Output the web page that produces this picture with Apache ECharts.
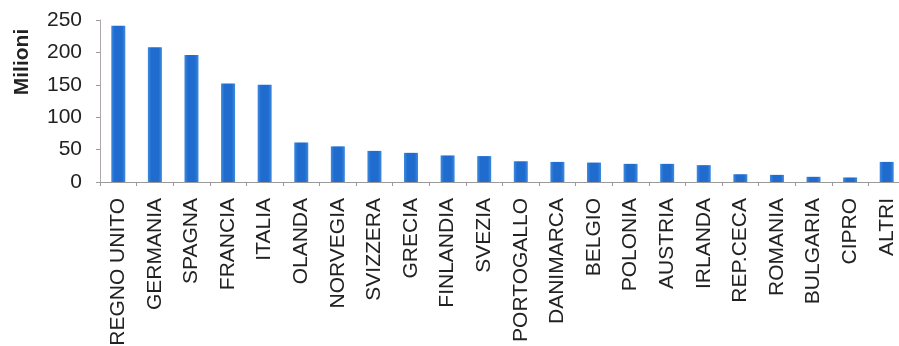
<!DOCTYPE html>
<html>
<head>
<meta charset="utf-8">
<script src="https://cdn.jsdelivr.net/npm/echarts@6/dist/echarts.min.js"></script>
<style>
  html, body { margin: 0; padding: 0; background: #fff; }
  #main { width: 899px; height: 346px; }
</style>
</head>
<body>
<div id="main"></div>
<script>
// paesi (categorie)
const paesi = ["REGNO UNITO", "GERMANIA", "SPAGNA", "FRANCIA", "ITALIA", "OLANDA", "NORVEGIA",
  "SVIZZERA", "GRECIA", "FINLANDIA", "SVEZIA", "PORTOGALLO", "DANIMARCA", "BELGIO", "POLONIA",
  "AUSTRIA", "IRLANDA", "REP.CECA", "ROMANIA", "BULGARIA", "CIPRO", "ALTRI"];
// valori in milioni
const valori = [241, 208, 196, 152, 150, 61, 55, 48, 45, 41, 40, 32, 31, 30, 28, 28, 26, 12, 11, 8, 7, 31];
const yTicks = [0, 50, 100, 150, 200, 250];

const chart = echarts.init(document.getElementById("main"));

const option = {
  animation: false,
  backgroundColor: "#fff",
  textStyle: { fontFamily: "Liberation Sans, Arial, sans-serif" },
  grid: {
    left: 100,
    top: 20,
    width: 805,
    height: 162,
    containLabel: false,
    outerBoundsMode: "none",
  },
  graphic: [
    {
      type: "text",
      x: 22,
      y: 62,
      rotation: Math.PI / 2,
      style: {
        text: "Milioni",
        fontSize: 21,
        fontWeight: "bold",
        fontFamily: "Liberation Sans, Arial, sans-serif",
        fill: "#222",
        align: "center",
        verticalAlign: "middle",
      },
    },
  ],
  xAxis: {
    type: "category",
    data: paesi,
    axisLine: { lineStyle: { color: "#9a9a9a", width: 1 } },
    axisTick: { show: true, length: 4, lineStyle: { color: "#9a9a9a" } },
    axisLabel: {
      interval: 0,
      rotate: 90,
      margin: 16,
      fontSize: 21,
      color: "#222",
    },
  },
  yAxis: {
    type: "value",
    min: yTicks[0],
    max: yTicks[yTicks.length - 1],
    interval: 50,
    splitLine: { show: false },
    axisLine: { show: true, lineStyle: { color: "#b0a8a8", width: 1 } },
    axisTick: { show: true, length: 4, lineStyle: { color: "#9a9a9a" } },
    axisLabel: { fontSize: 21, color: "#222", margin: 18 },
  },
  series: [
    {
      type: "bar",
      data: valori,
      barWidth: 14,
      itemStyle: {
        color: new echarts.graphic.LinearGradient(0, 0, 1, 0, [
          { offset: 0, color: "#3d8be0" },
          { offset: 0.25, color: "#1f6bce" },
          { offset: 0.75, color: "#1f6bce" },
          { offset: 1, color: "#3d8be0" },
        ]),
      },
    },
  ],
};

chart.setOption(option);
</script>
</body>
</html>
